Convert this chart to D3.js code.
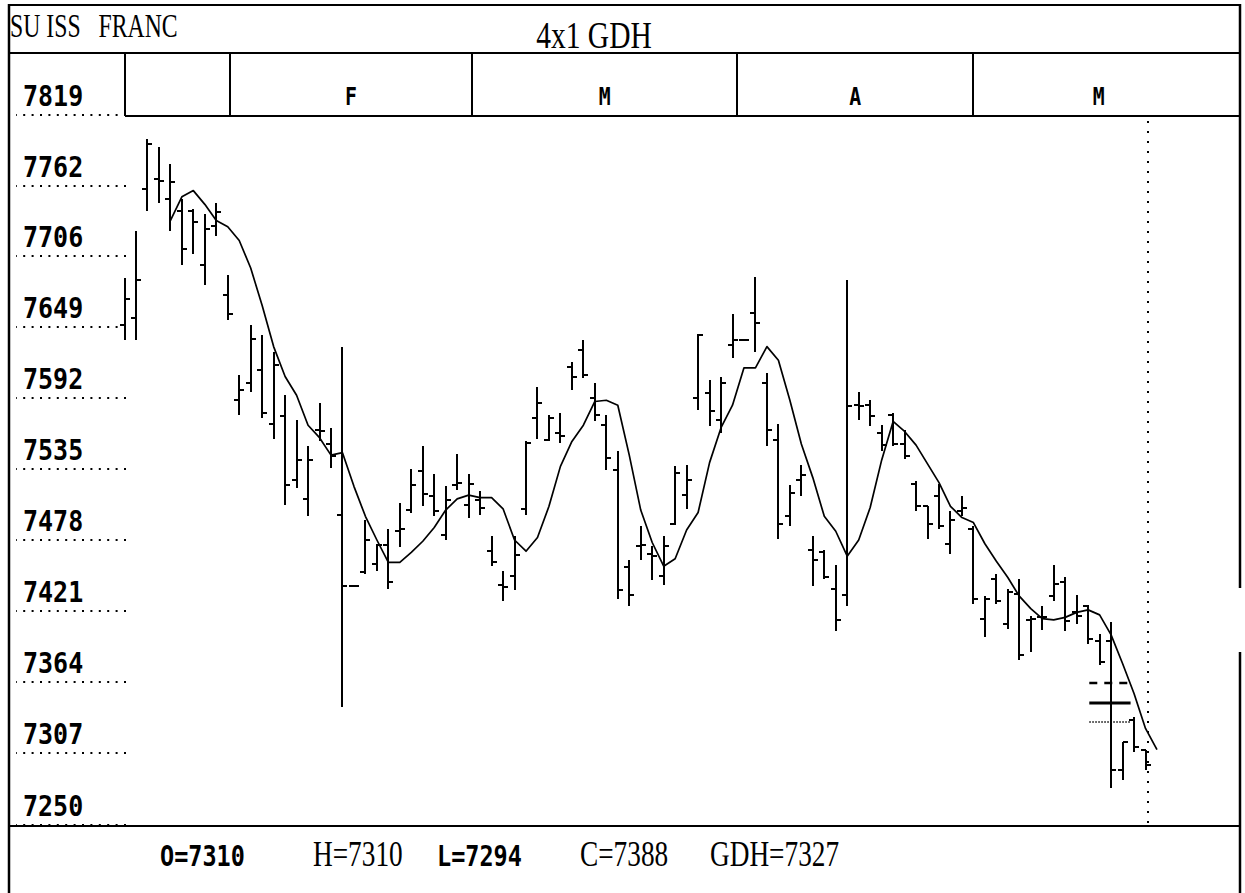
<!DOCTYPE html>
<html>
<head>
<meta charset="utf-8">
<script src="https://cdn.jsdelivr.net/npm/d3@7"></script>
<style>
  html, body { margin: 0; padding: 0; background: #fff; }
  svg { display: block; }
</style>
</head>
<body>
<svg id="chart" width="1245" height="893"></svg>
<script>
// ---- Data -------------------------------------------------------------
// Daily sessions, index 0 = first bar on the left
const opens = [7650,7656,7759,7767,7751,7742,7742,7698,7730,7674,
  7590,7604,7614,7571,7577,7526,7511,7566,7555,7498,
  7441,7452,7459,7474,7485,7502,7533,7513,7482,7522,
  7506,7510,7469,7442,7449,7503,7576,7558,7564,7617,
  7630,7592,7570,7534,7456,7473,7467,7449,7491,7514,
  7592,7596,7574,7634,7638,7660,7604,7558,7497,7526,
  7470,7468,7439,7434,7586,7586,7564,7578,7555,7523,
  7505,7513,7475,7501,7487,7415,7447,7411,7435,7414,
  7416,7433,7444,7420,7425,7397,7397,7294,7334,7310];
const highs = [7688,7726,7799,7793,7779,7751,7743,7739,7748,7690,
  7610,7650,7642,7629,7594,7574,7553,7588,7568,7633,
  7441,7494,7475,7487,7508,7535,7553,7531,7521,7547,
  7531,7517,7481,7453,7481,7557,7601,7578,7580,7621,
  7638,7604,7578,7549,7462,7489,7473,7481,7537,7538,
  7643,7606,7609,7659,7638,7689,7612,7571,7522,7538,
  7481,7470,7458,7686,7597,7590,7570,7580,7566,7525,
  7505,7523,7501,7513,7489,7433,7451,7439,7447,7417,
  7425,7458,7448,7434,7426,7403,7412,7316,7336,7310];
const lows = [7638,7638,7742,7748,7726,7698,7707,7682,7722,7654,
  7578,7597,7576,7559,7506,7520,7497,7557,7536,7344,
  7441,7451,7453,7439,7472,7500,7505,7497,7478,7518,
  7496,7498,7457,7429,7438,7498,7559,7557,7556,7598,
  7608,7573,7534,7431,7425,7462,7446,7442,7490,7503,
  7582,7569,7564,7624,7638,7629,7553,7479,7489,7513,
  7441,7447,7405,7425,7574,7569,7549,7553,7543,7501,
  7479,7487,7467,7497,7427,7400,7427,7407,7382,7388,
  7406,7429,7405,7411,7395,7378,7279,7286,7308,7294];
const closes = [7671,7686,7795,7766,7765,7711,7733,7727,7741,7659,
  7598,7639,7580,7618,7522,7542,7542,7565,7545,7441,
  7441,7478,7474,7444,7487,7522,7515,7501,7510,7524,
  7523,7504,7460,7440,7466,7556,7588,7576,7561,7609,
  7610,7578,7544,7438,7434,7474,7465,7473,7532,7526,
  7642,7581,7604,7638,7638,7652,7566,7491,7516,7530,
  7462,7448,7414,7585,7585,7577,7554,7555,7545,7505,
  7491,7489,7494,7504,7431,7431,7429,7436,7386,7415,
  7416,7443,7413,7417,7399,7380,7294,7316,7312,7298];

// GDH line (4-session average shown one session ahead); first point at session 4
const gdhStart = 4;
const gdh = [7734,7753,7758,7747,7734,7729,7718,7696,7666,7633,
  7609,7594,7570,7560,7546,7548,7521,7497,7478,7460,
  7460,7468,7477,7488,7502,7511,7514,7512,7512,7503,
  7478,7469,7480,7505,7537,7557,7570,7589,7590,7586,
  7546,7502,7476,7457,7463,7486,7500,7540,7568,7586,
  7616,7616,7633,7622,7590,7555,7528,7497,7485,7465,
  7478,7504,7542,7573,7565,7554,7539,7524,7505,7496,
  7492,7475,7461,7448,7433,7423,7415,7414,7416,7420,
  7422,7418,7402,7379,7355,7327,7310];

// Price scale labels
const priceTicks = [7250,7307,7364,7421,7478,7535,7592,7649,7706,7762,7819];

// Month header: labels and the session position where each month begins
const monthLabels = ["F","M","A","M"];
const monthBreaks = [9.2, 30.3, 53.4, 74];

// Reference levels drawn beside the last sessions
const levels = [7363, 7347, 7332];

// Cursor session and readout
const cursorSession = 89.2;
const readoutKeys = ["O","H","L","C","GDH"];
const readoutValues = [7310, 7310, 7294, 7388, 7327];

const instrumentName = "SU ISS   FRANC";
const chartTitle = "4x1 GDH";

// ---- Layout -----------------------------------------------------------
const W = 1245, H = 893;
const F = { left: 9, right: 1240, top: 5, titleBottom: 53, headerBottom: 116,
            plotBottom: 826, gapTop: 588, gapBottom: 652, firstCell: 125 };

const svg = d3.select("#chart");
svg.append("rect").attr("width", W).attr("height", H).attr("fill", "#fff");

const x = d3.scaleLinear().domain([0, 89]).range([124.5, 1145.5]);
const y = d3.scaleLinear().domain([7250, 7819]).range([824.5, 114.5]);
const px = v => Math.round(x(v));
const py = v => Math.round(y(v));

const monoFont = "'DejaVu Sans Mono', 'Liberation Mono', monospace";
const serifFont = "'Liberation Serif', 'DejaVu Serif', serif";

// ---- Frame ------------------------------------------------------------
const frame = svg.append("g").attr("stroke", "#000").attr("fill", "none");
const hLine = (x1, x2, yy, w) => frame.append("line")
  .attr("x1", x1).attr("x2", x2).attr("y1", yy).attr("y2", yy).attr("stroke-width", w);
const vLine = (xx, y1, y2, w) => frame.append("line")
  .attr("x1", xx).attr("x2", xx).attr("y1", y1).attr("y2", y2).attr("stroke-width", w);

hLine(F.left, F.right, F.top, 2);
hLine(F.left, F.right, F.titleBottom, 2);
hLine(F.firstCell, F.right, F.headerBottom, 2);
hLine(F.left, F.right, F.plotBottom, 2);
vLine(F.left, F.top - 1, H, 2.5);
vLine(F.right, F.top - 1, F.gapTop, 2.5);
vLine(F.right, F.gapBottom, H, 2.5);
vLine(F.firstCell, F.titleBottom, F.headerBottom, 2);

// Month cells
monthBreaks.forEach(b => vLine(px(b), F.titleBottom, F.headerBottom, 2));
const cellEdges = monthBreaks.map(b => x(b)).concat([F.right]);
svg.append("g").selectAll("text").data(monthLabels).join("text")
  .attr("transform", (d, k) => `translate(${(cellEdges[k] + cellEdges[k + 1]) / 2 - (k === 3 ? 8 : 0)},105) scale(0.9,1.15)`)
  .attr("text-anchor", "middle")
  .attr("font-family", monoFont).attr("font-weight", "bold").attr("font-size", 22)
  .text(d => d);

// Titles
svg.append("text")
  .attr("transform", `translate(10,37) scale(0.72,1)`)
  .attr("font-family", serifFont).attr("font-size", 33)
  .style("white-space", "pre")
  .text(instrumentName);
svg.append("text")
  .attr("transform", `translate(594,48) scale(0.82,1.05)`)
  .attr("text-anchor", "middle")
  .attr("font-family", serifFont).attr("font-size", 36)
  .text(chartTitle);

// ---- Price axis (dotted leader lines under each label) -----------------
const axis = d3.axisLeft(y).tickValues(priceTicks).tickSize(110).tickFormat(d3.format("d"));
const gAxis = svg.append("g").attr("transform", "translate(126,0)").call(axis);
gAxis.select(".domain").remove();
gAxis.attr("font-family", monoFont).attr("font-size", 25).attr("font-weight", "bold");
gAxis.selectAll(".tick").attr("transform", d => `translate(0,${py(d)})`);
gAxis.selectAll(".tick line")
  .attr("stroke", "#000").attr("stroke-width", 2).attr("stroke-dasharray", "2 6.4");
gAxis.selectAll(".tick text")
  .attr("x", -103).attr("dy", null).attr("y", -9 / 1.12)
  .attr("text-anchor", "start")
  .attr("transform", "scale(1,1.12)")
  .attr("fill", "#000");

// ---- Cursor line ------------------------------------------------------
svg.append("line")
  .attr("x1", px(cursorSession)).attr("x2", px(cursorSession))
  .attr("y1", 121).attr("y2", F.plotBottom)
  .attr("stroke", "#000").attr("stroke-width", 2).attr("stroke-dasharray", "2 8");

// ---- OHLC bars ----------------------------------------------------------
const bars = opens.map((o, i) => ({ i, o, h: highs[i], l: lows[i], c: closes[i] }));
const gBars = svg.append("g").attr("stroke", "#000").attr("stroke-width", 2);
gBars.selectAll("line.hl").data(bars.filter(d => d.h !== d.l)).join("line")
  .attr("class", "hl")
  .attr("x1", d => px(d.i)).attr("x2", d => px(d.i))
  .attr("y1", d => py(d.h)).attr("y2", d => py(d.l));
gBars.selectAll("line.open").data(bars).join("line")
  .attr("class", "open")
  .attr("x1", d => px(d.i) - 5).attr("x2", d => px(d.i))
  .attr("y1", d => py(d.o)).attr("y2", d => py(d.o));
gBars.selectAll("line.close").data(bars).join("line")
  .attr("class", "close")
  .attr("x1", d => px(d.i)).attr("x2", d => px(d.i) + 5)
  .attr("y1", d => py(d.c)).attr("y2", d => py(d.c));

// ---- GDH line -----------------------------------------------------------
const line = d3.line().x((d, k) => x(gdhStart + k)).y(d => y(d));
svg.append("path").datum(gdh)
  .attr("d", line)
  .attr("fill", "none").attr("stroke", "#000").attr("stroke-width", 1.7)
  .attr("stroke-linejoin", "round");

// ---- Reference levels ---------------------------------------------------
const levelStyles = [
  { w: 2.5, dash: "8 7" },
  { w: 3, dash: null },
  { w: 1.5, dash: "1.5 1.5" }
];
svg.append("g").selectAll("line").data(levels).join("line")
  .attr("x1", x(84.1)).attr("x2", x(87.7))
  .attr("y1", d => py(d)).attr("y2", d => py(d))
  .attr("stroke", "#000")
  .attr("stroke-width", (d, k) => levelStyles[k].w)
  .attr("stroke-dasharray", (d, k) => levelStyles[k].dash);

// ---- Readout ------------------------------------------------------------
const readoutX = [160, 313, 437, 580, 710];
const readoutMono = [true, false, true, false, false];
svg.append("g").selectAll("text").data(readoutKeys).join("text")
  .attr("transform", (d, k) => readoutMono[k]
      ? `translate(${readoutX[k]},866) scale(1,1.2)`
      : `translate(${readoutX[k]},866) scale(0.78,1)`)
  .attr("font-family", (d, k) => readoutMono[k] ? monoFont : serifFont)
  .attr("font-weight", (d, k) => readoutMono[k] ? "bold" : "normal")
  .attr("font-size", (d, k) => readoutMono[k] ? 23.5 : 35)
  .text((d, k) => `${d}=${readoutValues[k]}`);
</script>
</body>
</html>
